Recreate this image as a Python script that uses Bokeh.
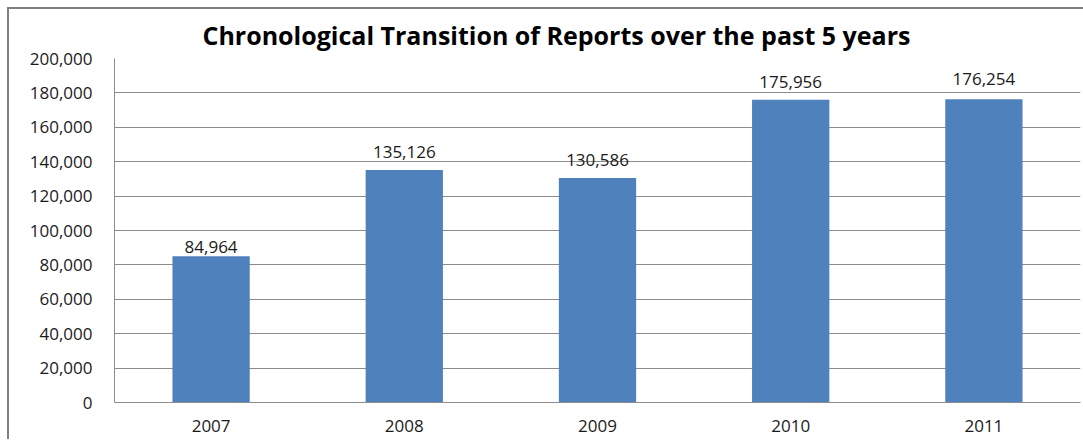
from bokeh.plotting import figure
from bokeh.models import ColumnDataSource, LabelSet, FixedTicker, NumeralTickFormatter, Range1d
from bokeh.core.properties import value
from bokeh.embed import file_html
from bokeh.resources import INLINE

title_text = "Chronological Transition of  Reports over the past 5 years"
years = ["2007", "2008", "2009", "2010", "2011"]
reports = [84964, 135126, 130586, 175956, 176254]
labels = ["84,964", "135,126", "130,586", "175,956", "176,254"]
y_ticks = [0, 20000, 40000, 60000, 80000, 100000, 120000, 140000, 160000, 180000, 200000]

label_offsets = [3, 12, 12, 12, 14]

FONT = "Open Sans"
TXT = "#1a1a1a"

p = figure(x_range=years, y_range=Range1d(0, 200000),
           frame_width=966, frame_height=344,
           min_border_left=105, min_border_right=3, min_border_top=49, min_border_bottom=37,
           output_backend="svg", toolbar_location=None, title=title_text)
p.styles = {"border-left": "2px solid #808080", "border-top": "2px solid #808080",
            "margin-left": "7px", "margin-top": "7px"}

p.title.text_font = FONT
p.title.text_font_size = "25px"
p.title.text_font_style = "bold"
p.title.text_color = "#000000"
p.title.align = "left"
p.title.vertical_align = "top"
p.title.offset = 88
p.title.standoff = 10

src = ColumnDataSource(dict(year=years, n=reports, lab=labels))
p.vbar(x="year", top="n", width=0.4, source=src, fill_color="#4F81BD", line_color=None)

for i in range(len(years)):
    s = ColumnDataSource(dict(year=[years[i]], n=[reports[i]], lab=[labels[i]]))
    p.add_layout(LabelSet(x="year", y="n", text="lab", source=s, text_align="center",
                          text_baseline="alphabetic", y_offset=label_offsets[i],
                          text_font=value(FONT), text_font_size=value("17px"), text_color=TXT))

p.x_range.range_padding = 0
p.outline_line_color = None
p.background_fill_color = "white"
p.border_fill_color = "white"

p.xgrid.grid_line_color = None
p.ygrid.grid_line_color = "#8c8c8c"
p.ygrid.grid_line_width = 1
p.yaxis.ticker = FixedTicker(ticks=y_ticks)
p.yaxis.formatter = NumeralTickFormatter(format="0,0")

for ax in (p.xaxis, p.yaxis):
    ax.axis_line_color = "#8c8c8c"
    ax.major_tick_line_color = None
    ax.minor_tick_line_color = None
    ax.major_tick_out = 0
    ax.major_tick_in = 0
    ax.major_label_text_font = FONT
    ax.major_label_text_font_size = "17px"
    ax.major_label_text_color = TXT
p.yaxis.major_label_standoff = 22
p.xaxis.major_label_standoff = 17

open("out.html", "w").write(file_html(p, INLINE))
